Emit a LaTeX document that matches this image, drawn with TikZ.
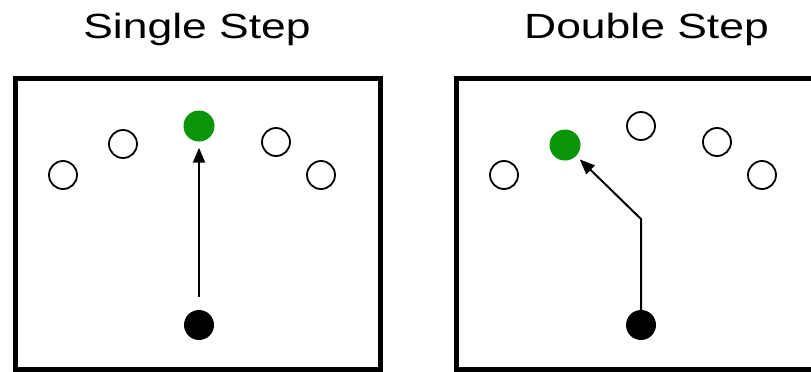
\documentclass[tikz,border=0pt]{standalone}
\usepackage{fontspec}
\usepackage{graphicx}
\setmainfont{Liberation Sans}
\usetikzlibrary{arrows.meta}
\definecolor{dotgreen}{RGB}{8,150,8}
\begin{document}
\begin{tikzpicture}[x=1pt,y=-1pt,
  framebox/.style={draw=black,line width=5pt},
  opendot/.style={circle,draw=black,line width=1.8pt,fill=white,minimum size=28pt,inner sep=0pt},
  greendot/.style={circle,fill=dotgreen,minimum size=31pt,inner sep=0pt},
  blackdot/.style={circle,fill=black,minimum size=30pt,inner sep=0pt},
  arr/.style={line width=2pt,-{Triangle[length=15pt,width=12pt]}},
  title/.style={anchor=base,inner sep=0pt,font=\fontsize{35}{40}\selectfont}]
\useasboundingbox (0,0) rectangle (811,372);
\clip (0,0) rectangle (811,372);
\fill[white] (0,0) rectangle (811,372);
% titles
\node[title] (t1) at (197,38) {\scalebox{1.27}[1]{Single Step}};
\node[title] (t2) at (646.5,38) {\scalebox{1.27}[1]{Double Step}};
% frames
\draw[framebox] (15.5,78.5) rectangle (380.5,369);
\draw[framebox] (456,78.5) rectangle (818,369.5);
% left panel
\node[opendot] (l1) at (63,175) {};
\node[opendot] (l2) at (123,144) {};
\node[greendot] (lg) at (199,126) {};
\node[opendot] (l4) at (276,142) {};
\node[opendot] (l5) at (321,175) {};
\node[blackdot] (lb) at (199,325) {};
\draw[arr,shorten <=13pt,shorten >=6pt] (lb) -- (lg);
% right panel
\node[opendot] (r1) at (504,175) {};
\node[greendot] (rg) at (565,145) {};
\node[opendot] (r3) at (641,126) {};
\node[opendot] (r4) at (717,142) {};
\node[opendot] (r5) at (762,175) {};
\node[blackdot] (rb) at (641,325) {};
\coordinate (rk) at (641,219);
\draw[arr,shorten >=5pt] ([yshift=-13pt]rb.north) -- (rk) -- (rg);
\end{tikzpicture}
\end{document}
